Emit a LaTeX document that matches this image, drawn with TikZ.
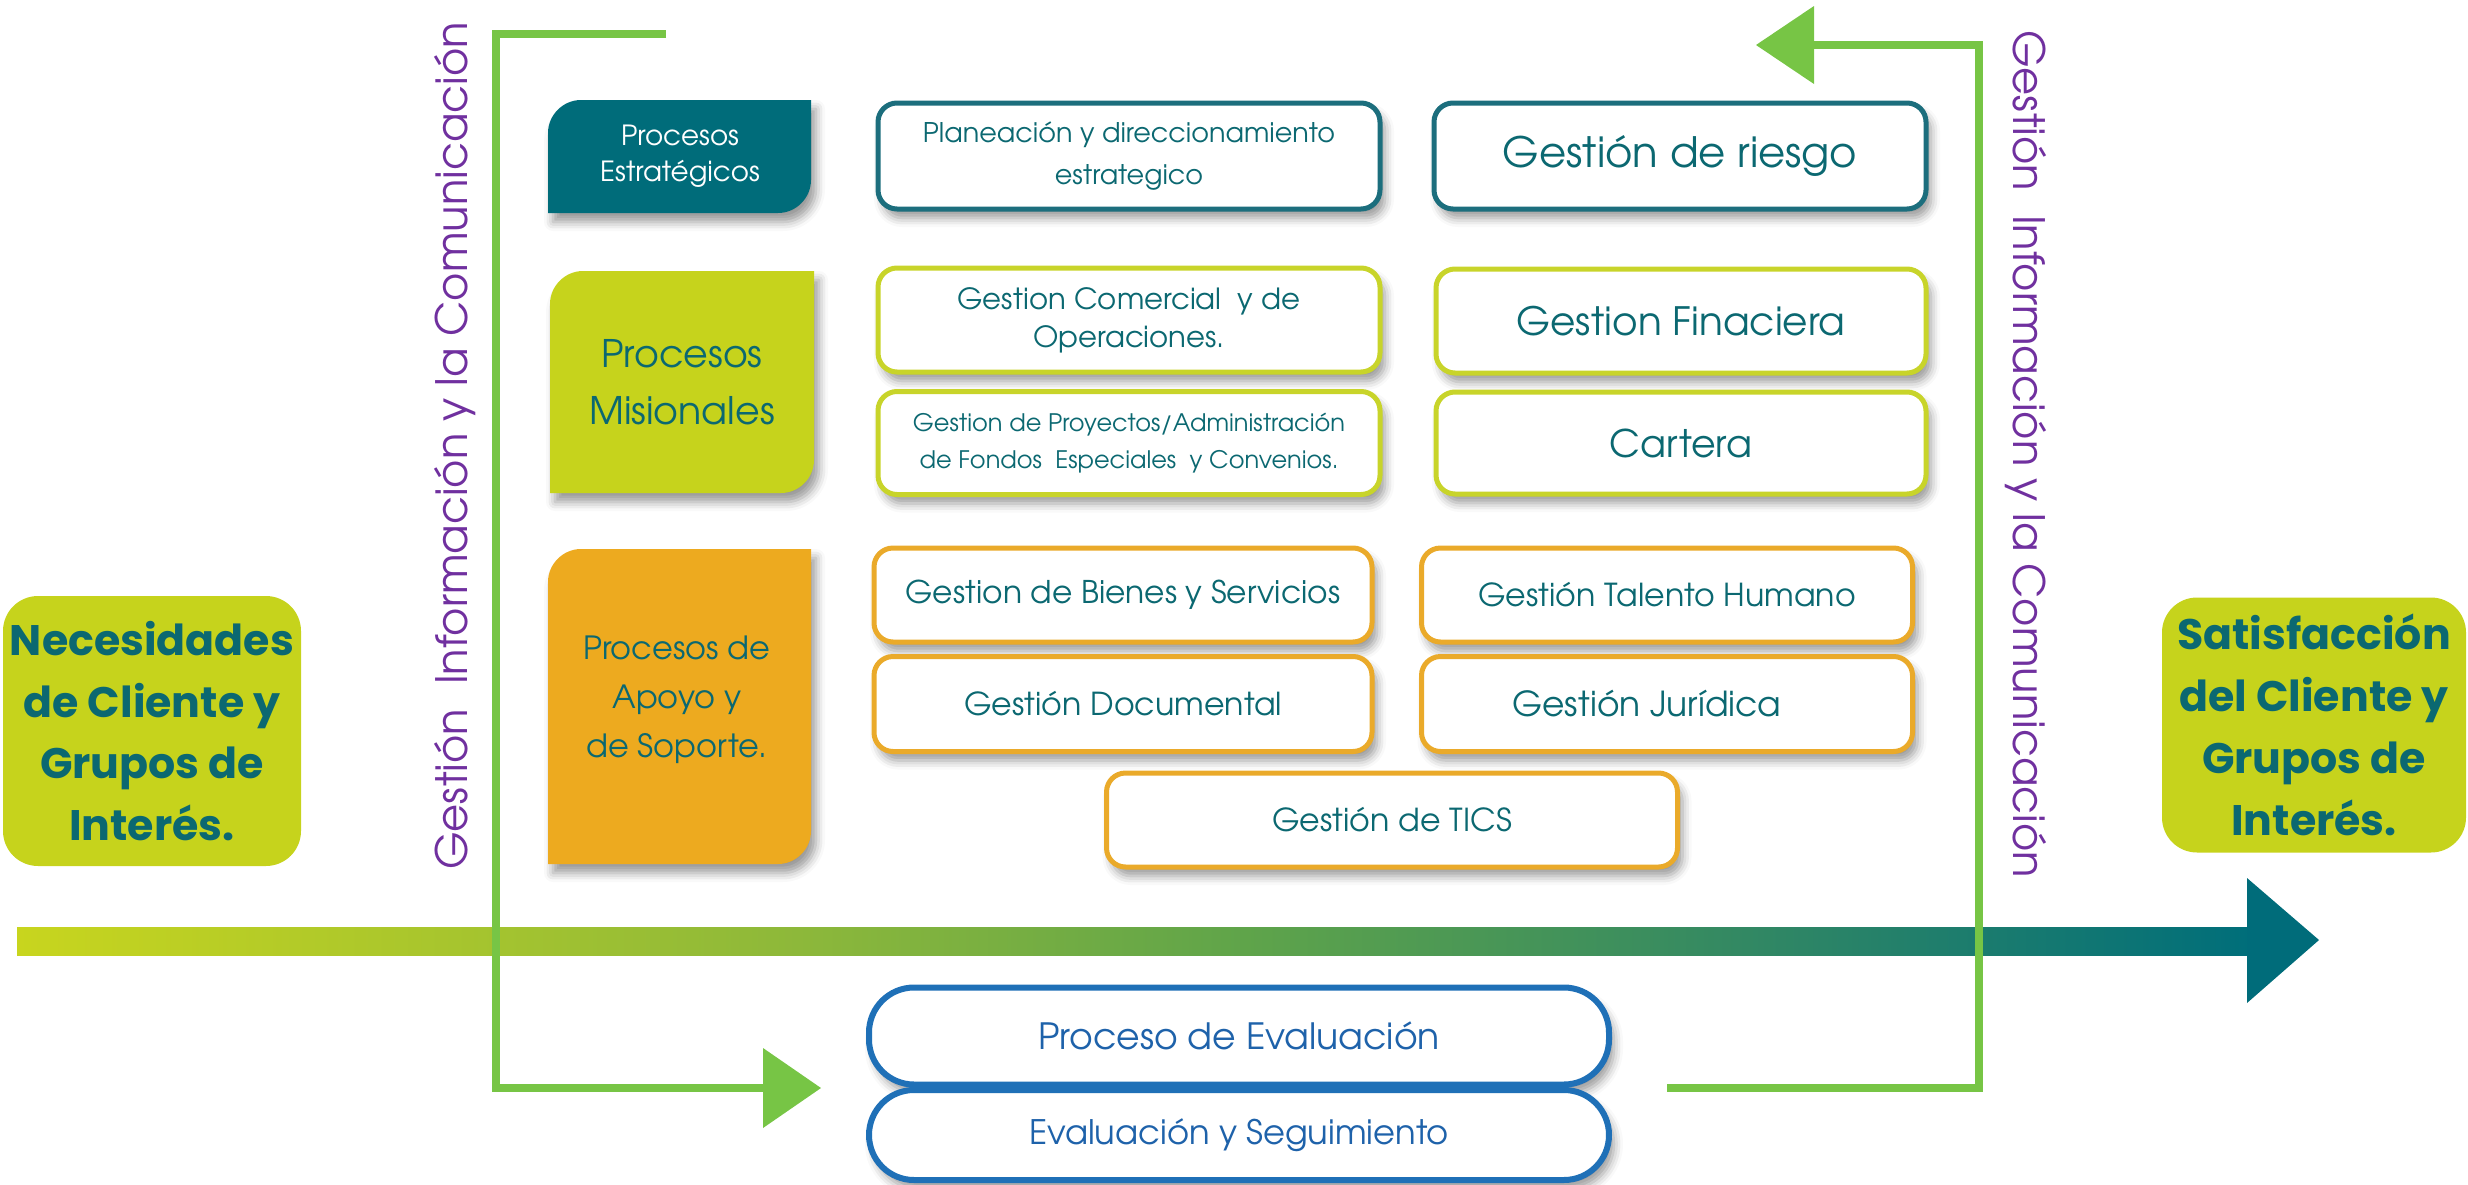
\documentclass[tikz,border=0pt]{standalone}
\usepackage{fontspec}
\setmainfont{texgyreadventor}[Extension=.otf, UprightFont=*-regular, BoldFont=*-bold, ItalicFont=*-italic, BoldItalicFont=*-bolditalic]
\newfontfamily\sidefont{Poppins}
\usetikzlibrary{shadows.blur}
\definecolor{tealA}{HTML}{006C7A}
\definecolor{tealT}{HTML}{0B6871}
\definecolor{tealB}{HTML}{1C6E7D}
\definecolor{limeA}{HTML}{C6D31C}
\definecolor{limeB}{HTML}{C8D42A}
\definecolor{orangeA}{HTML}{EDAA1F}
\definecolor{orangeB}{HTML}{EAAA2A}
\definecolor{greenL}{HTML}{77C545}
\definecolor{purpleA}{HTML}{70309F}
\definecolor{blueA}{HTML}{1F70B7}
\definecolor{blueT}{HTML}{1E62AA}
\definecolor{gA}{HTML}{C8D51E}
\definecolor{gB}{HTML}{8DB83A}
\definecolor{gC}{HTML}{5FA44A}
\definecolor{gD}{HTML}{2D8566}
\definecolor{gE}{HTML}{006E7A}
\pgfdeclarehorizontalshading{mainarrow}{100bp}{color(0bp)=(gA); color(25bp)=(gA); color(42.5bp)=(gB); color(52.5bp)=(gC); color(65bp)=(gD); color(75bp)=(gE); color(100bp)=(gE)}
\tikzset{
  softshadow/.style={blur shadow={shadow xshift=0.5mm, shadow yshift=-0.9mm, shadow blur radius=0.9mm}},
  wbox/.style={draw=#1, line width=0.5mm, rounded corners=1.9mm, fill=white, inner sep=0pt, align=center, text=tealT, softshadow},
  pillbox/.style={draw=blueA, line width=0.6mm, rounded corners=4.5mm, fill=white, inner sep=0pt, align=center, text=blueT, softshadow, minimum width=74mm},
  leaftext/.style={inner sep=0pt, align=center},
  sidebox/.style={fill=limeA, rounded corners=3.5mm, inner sep=0pt, align=center, text=tealT, font=\sidefont\bfseries\fontsize{12.15}{17.6}\selectfont},
  vtext/.style={inner sep=0pt, text=purpleA, font=\fontsize{12.3}{14}\selectfont},
  brline/.style={draw=greenL, line width=0.8mm, line join=miter},
  brhead/.style={fill=greenL},
}
\begin{document}
\begin{tikzpicture}[x=0.1mm, y=-0.1mm]
\useasboundingbox (0,0) rectangle (2468,1185);

% main flow arrow
\coordinate (flowA) at (17,927);
\coordinate (flowB) at (2249,955);
\shade[shading=mainarrow] (flowA) rectangle (flowB);
\fill[tealA] (2247,878) -- (2319,940) -- (2247,1003) -- cycle;

% side boxes
\node[sidebox, minimum width=29.8mm, minimum height=27mm] (need) at (152,731) {Necesidades\\de Cliente y\\Grupos de\\Interés.};
\node[sidebox, minimum width=30.4mm, minimum height=25.5mm] (satis) at (2314,725) {Satisfacción\\del Cliente y\\Grupos de\\Interés.};

% leaf boxes
\fill[tealA, softshadow] (548,213) -- (548,133) .. controls (548,115) and (563,100) .. (581,100) -- (811,100) -- (811,180) .. controls (811,198) and (796,213) .. (778,213) -- cycle;
\node[leaftext, text=white, font=\fontsize{7.9}{10.2}\selectfont] (strat) at (680,156) {Procesos\\Estratégicos};

\fill[limeA, softshadow] (550,493) -- (550,304) .. controls (550,286) and (565,271) .. (583,271) -- (814,271) -- (814,460) .. controls (814,478) and (799,493) .. (781,493) -- cycle;
\node[leaftext, text=tealT, font=\fontsize{10.8}{16.2}\selectfont] (mision) at (682,382) {Procesos\\Misionales};

\fill[orangeA, softshadow] (548,864) -- (548,582) .. controls (548,564) and (563,549) .. (581,549) -- (811,549) -- (811,831) .. controls (811,849) and (796,864) .. (778,864) -- cycle;
\node[leaftext, text=tealT, font=\fontsize{9.1}{13.9}\selectfont] (apoyo) at (677,700) {Procesos de\\Apoyo y\\de Soporte.};

% strategic row
\node[wbox=tealB, minimum width=50.2mm, minimum height=10.6mm, font=\fontsize{7.7}{11.95}\selectfont] (plan) at (1129,156) {Planeación y direccionamiento\\estrategico};
\node[wbox=tealB, minimum width=49.2mm, minimum height=10.6mm, font=\fontsize{11.9}{14}\selectfont] (riesgo) at (1680,156) {Gestión de riesgo};

% missional rows
\node[wbox=limeB, minimum width=50.2mm, minimum height=10.4mm, font=\fontsize{8.3}{10.9}\selectfont] (comer) at (1129,320) {Gestion Comercial \ y de\\Operaciones.};
\node[wbox=limeB, minimum width=49.0mm, minimum height=10.4mm, font=\fontsize{11.1}{13}\selectfont] (finan) at (1681,321) {Gestion Finaciera};
\node[wbox=limeB, minimum width=50.2mm, minimum height=10.3mm, font=\fontsize{6.85}{10.5}\selectfont] (proy) at (1129,443) {Gestion de Proyectos/Administración\\de Fondos \ Especiales \ y Convenios.};
\node[wbox=limeB, minimum width=49.0mm, minimum height=10.2mm, font=\fontsize{10.8}{13}\selectfont] (cartera) at (1681,443) {Cartera};

% support rows
\node[wbox=orangeB, minimum width=49.8mm, minimum height=9.4mm, font=\fontsize{8.9}{11}\selectfont] (bienes) at (1123,595) {Gestion de Bienes y Servicios};
\node[wbox=orangeB, minimum width=49.1mm, minimum height=9.4mm, font=\fontsize{9}{11}\selectfont] (talento) at (1667,595) {Gestión Talento Humano};
\node[wbox=orangeB, minimum width=49.8mm, minimum height=9.5mm, font=\fontsize{9}{11}\selectfont] (docum) at (1123,704) {Gestión Documental};
\node[wbox=orangeB, minimum width=49.1mm, minimum height=9.5mm, font=\fontsize{9.8}{11}\selectfont] (jurid) at (1667,704) {Gestión Jurídica\hspace{4mm}};
\node[wbox=orangeB, minimum width=57.1mm, minimum height=9.4mm, font=\fontsize{9}{11}\selectfont] (tics) at (1392,820) {Gestión de TICS};

% evaluation
\node[pillbox, minimum height=9.7mm, font=\fontsize{10.3}{11}\selectfont] (evalp) at (1239,1036) {Proceso de Evaluación};
\node[pillbox, minimum height=9.0mm, font=\fontsize{9.6}{11}\selectfont] (seguim) at (1239,1135) {Evaluación y Seguimiento};

% information brackets
\coordinate (lbA) at (666,34);
\coordinate (lbB) at (496,34);
\coordinate (lbC) at (496,1088);
\coordinate (lbD) at (766,1088);
\draw[brline] (lbA) -- (lbB) -- (lbC) -- (lbD);
\fill[brhead] (763,1048) -- (821,1088) -- (763,1128) -- cycle;

\coordinate (rbA) at (1667,1088);
\coordinate (rbB) at (1979,1088);
\coordinate (rbC) at (1979,45);
\coordinate (rbD) at (1812,45);
\draw[brline] (rbA) -- (rbB) -- (rbC) -- (rbD);
\fill[brhead] (1814,6) -- (1756,45) -- (1814,84) -- cycle;

% vertical labels
\node[vtext, rotate=90] (infoL) at (455,446) {Gestión\hspace{2.4mm}Información y la Comunicación};
\node[vtext, rotate=-90] (infoR) at (2026,454) {Gestión\hspace{2.4mm}Información y la Comunicación};
\end{tikzpicture}
\end{document}
